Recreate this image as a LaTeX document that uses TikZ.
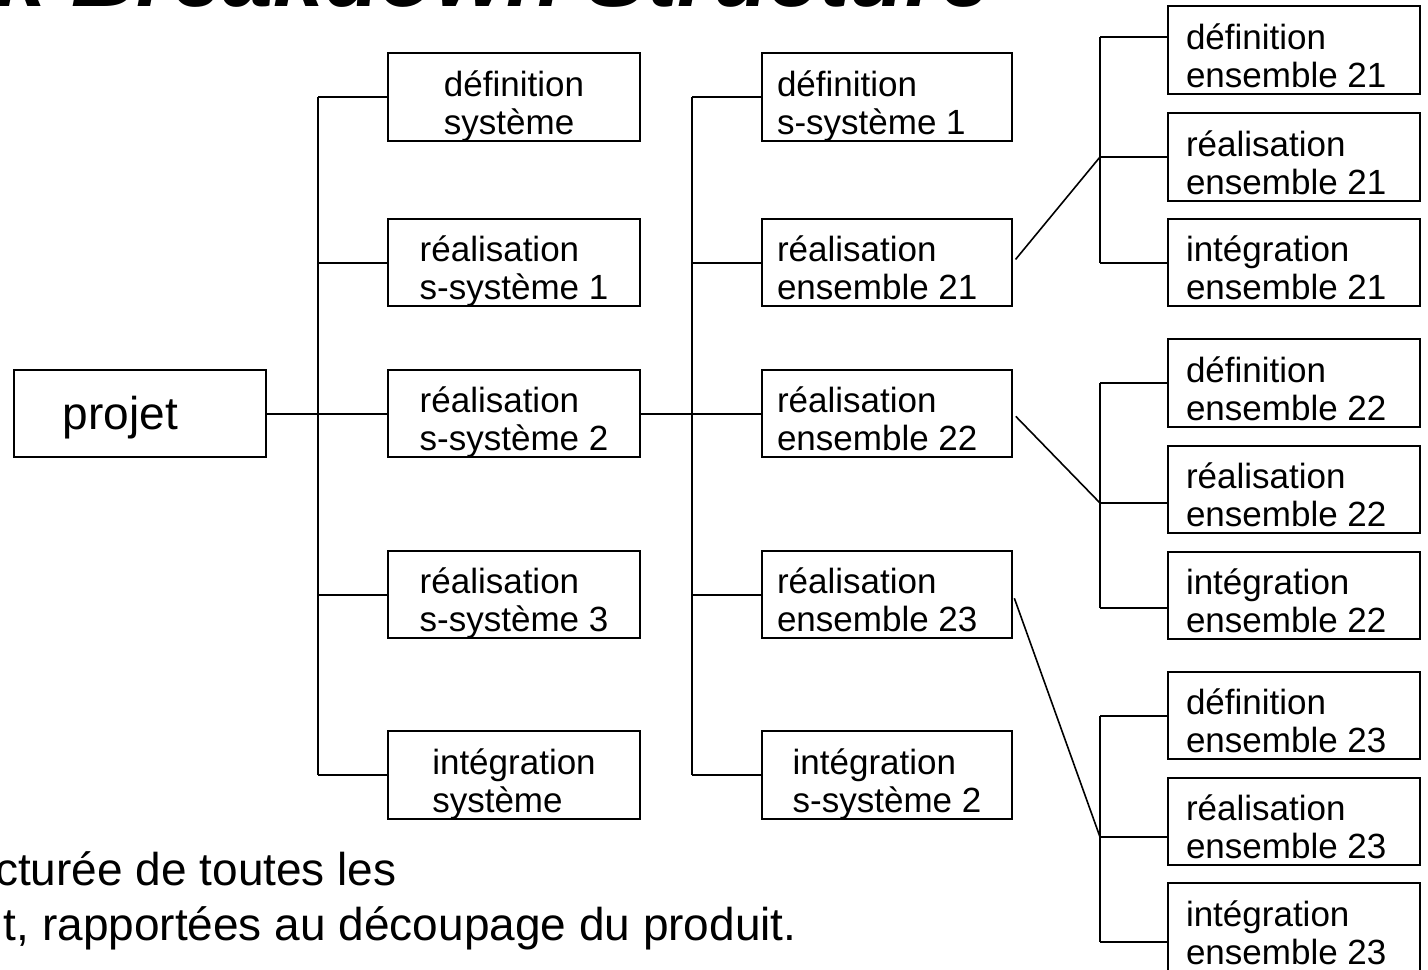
\documentclass[tikz,border=0pt]{standalone}
\usepackage{fontspec}
\setmainfont{Liberation Sans}
% two-line box label: width, alignment (l/c), left inset, first line, second line
\newcommand\twolines[5]{\makebox[#1][#2]{\hspace*{#3}\raisebox{0pt}[0pt][1pt]{\vtop{\hbox{#4}\hbox{#5}}}}}
\newcommand\colA[2]{\twolines{126pt}{c}{0pt}{#1}{#2}}
\newcommand\colB[2]{\twolines{125pt}{l}{7.5pt}{#1}{#2}}
\newcommand\colC[2]{\twolines{126pt}{l}{9pt}{#1}{#2}}
\begin{document}
\begin{tikzpicture}[x=0.5pt,y=-0.5pt,
  box/.style={draw, line width=1pt, rectangle, inner sep=0pt,
    minimum height=43.75pt, font=\fontsize{17.5pt}{19pt}\selectfont},
  wide/.style={minimum width=126pt},
  narrow/.style={minimum width=125pt},
  link/.style={line width=1pt},
  slant/.style={line width=0.8pt, shorten <=2pt},
  txt/.style={anchor=base east, inner sep=0pt}]
\useasboundingbox (0,0) rectangle (1428,969);
\fill[white] (0,0) rectangle (1428,969);
\clip (0,0) rectangle (1428,969);

% heading and caption text
\node[txt, font=\fontsize{45.5pt}{52pt}\selectfont\bfseries\itshape] (title) at (992,6) {k Breakdown Structure};
\node[txt, font=\fontsize{23pt}{27pt}\selectfont] (cap1) at (397,885) {cturée de toutes les};
\node[txt, font=\fontsize{23pt}{27pt}\selectfont] (cap2) at (797,940) {t, rapportées au découpage du produit.};

% root
\node[box,wide] (projet) at (140,413.5)
  {\makebox[126pt][l]{\hspace*{24.5pt}\raisebox{0pt}[16pt][0pt]{\fontsize{23pt}{27pt}\selectfont projet}}};

% first level
\node[box,wide] (c1a) at (514,97)    {\colA{définition}{système}};
\node[box,wide] (c1b) at (514,262.5) {\colA{réalisation}{s-système 1}};
\node[box,wide] (c1c) at (514,413.5) {\colA{réalisation}{s-système 2}};
\node[box,wide] (c1d) at (514,594.5) {\colA{réalisation}{s-système 3}};
\node[box,wide] (c1e) at (514,775)   {\colA{intégration}{système}};

% second level
\node[box,narrow] (c2a) at (887,97)    {\colB{définition}{s-système 1}};
\node[box,narrow] (c2b) at (887,262.5) {\colB{réalisation}{ensemble 21}};
\node[box,narrow] (c2c) at (887,413.5) {\colB{réalisation}{ensemble 22}};
\node[box,narrow] (c2d) at (887,594.5) {\colB{réalisation}{ensemble 23}};
\node[box,narrow] (c2e) at (887,775)   {\twolines{125pt}{c}{0pt}{intégration}{s-système 2}};

% third level
\node[box,wide] (d21) at (1294,50)    {\colC{définition}{ensemble 21}};
\node[box,wide] (r21) at (1294,157)   {\colC{réalisation}{ensemble 21}};
\node[box,wide] (i21) at (1294,262.5) {\colC{intégration}{ensemble 21}};
\node[box,wide] (d22) at (1294,383)   {\colC{définition}{ensemble 22}};
\node[box,wide] (r22) at (1294,489.5) {\colC{réalisation}{ensemble 22}};
\node[box,wide] (i22) at (1294,595.5) {\colC{intégration}{ensemble 22}};
\node[box,wide] (d23) at (1294,715.5) {\colC{définition}{ensemble 23}};
\node[box,wide] (r23) at (1294,821.5) {\colC{réalisation}{ensemble 23}};
\node[box,wide] (i23) at (1294,927)   {\colC{intégration}{ensemble 23}};

% bus positions
\coordinate (b1) at (318,0);
\coordinate (b2) at (692,0);
\coordinate (g21a) at (1100,37);
\coordinate (g21b) at (1100,157);
\coordinate (g21c) at (1100,263);
\coordinate (g22a) at (1100,383);
\coordinate (g22b) at (1100,503);
\coordinate (g22c) at (1100,608);
\coordinate (g23a) at (1100,716);
\coordinate (g23b) at (1100,837);
\coordinate (g23c) at (1100,942);

% first-level connectors
\draw[link] (c1a.west -| b1) -- (c1e.west -| b1);
\foreach \n in {c1a,c1b,c1c,c1d,c1e} \draw[link] (\n.west -| b1) -- (\n.west);
\draw[link] (projet.east) -- (c1c.west);

% second-level connectors
\draw[link] (c2a.west -| b2) -- (c2e.west -| b2);
\foreach \n in {c2a,c2b,c2c,c2d,c2e} \draw[link] (\n.west -| b2) -- (\n.west);
\draw[link] (c1c.east) -- (c2c.west);

% third-level connectors
\draw[link] (g21a) -- (g21c);
\draw[link] (g21a) -- (g21a -| d21.west);
\draw[link] (g21b) -- (g21b -| r21.west);
\draw[link] (g21c) -- (g21c -| i21.west);
\draw[slant] (c2b.east) -- (g21b);

\draw[link] (g22a) -- (g22c);
\draw[link] (g22a) -- (g22a -| d22.west);
\draw[link] (g22b) -- (g22b -| r22.west);
\draw[link] (g22c) -- (g22c -| i22.west);
\draw[slant] (c2c.east) -- (g22b);

\draw[link] (g23a) -- (g23c);
\draw[link] (g23a) -- (g23a -| d23.west);
\draw[link] (g23b) -- (g23b -| r23.west);
\draw[link] (g23c) -- (g23c -| i23.west);
\draw[slant] (c2d.east) -- (g23b);
\end{tikzpicture}
\end{document}
